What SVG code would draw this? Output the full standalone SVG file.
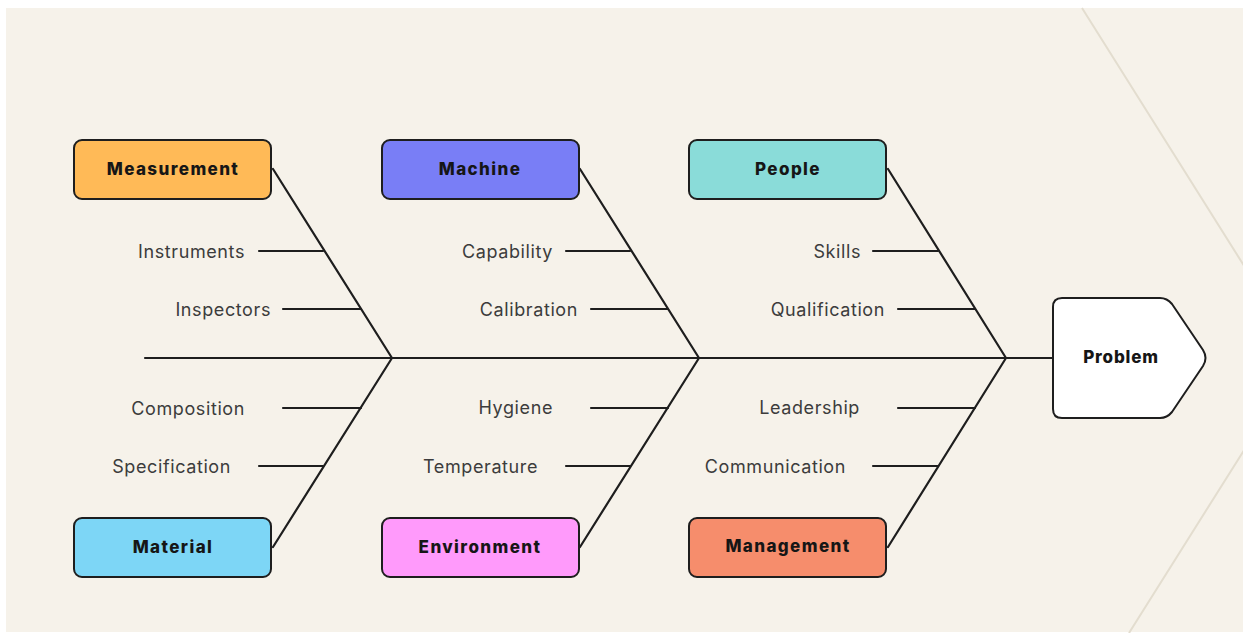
<svg xmlns="http://www.w3.org/2000/svg" width="1243" height="633" viewBox="0 0 1243 633">
  <style>
    .bg { fill: #F6F2EA; }
    .deco { fill: none; stroke: #E3DDCF; stroke-width: 2; }
    .bone { fill: none; stroke: #1E1E1E; stroke-width: 2.2; stroke-linecap: round; stroke-linejoin: round; }
    .box { stroke: #1E1E1E; stroke-width: 2; }
    .cat { font-family: Inter, "Liberation Sans", sans-serif; font-weight: 800; font-size: 17px; letter-spacing: 1.4px; fill: #161616; text-anchor: middle; dominant-baseline: central; }
    .cause { font-family: Inter, "Liberation Sans", sans-serif; font-size: 18px; letter-spacing: 0.6px; fill: #3C3C3C; text-anchor: end; dominant-baseline: central; }
  </style>

  <!-- canvas -->
  <rect x="0" y="0" width="1243" height="633" fill="#FFFFFF"/>
  <rect class="bg" x="6" y="8" width="1237" height="624"/>
  <polyline class="deco" points="1082,8 1302,358 1129,633"/>

  <!-- connectors: spine, ribs and sub-causes -->
  <g id="connectors">
    <line class="bone" x1="145" y1="358" x2="1053" y2="358"/>
    <polyline class="bone" points="273,169 392,358 273,547"/>
    <polyline class="bone" points="580,169 699,358 580,547"/>
    <polyline class="bone" points="888,169 1006,358 888,547"/>

    <line class="bone" x1="259" y1="251" x2="323" y2="251"/>
    <line class="bone" x1="283" y1="309" x2="361" y2="309"/>
    <line class="bone" x1="283" y1="408" x2="361" y2="408"/>
    <line class="bone" x1="259" y1="466" x2="323" y2="466"/>

    <line class="bone" x1="566" y1="251" x2="630" y2="251"/>
    <line class="bone" x1="591" y1="309" x2="668" y2="309"/>
    <line class="bone" x1="591" y1="408" x2="668" y2="408"/>
    <line class="bone" x1="566" y1="466" x2="630" y2="466"/>

    <line class="bone" x1="873" y1="251" x2="938" y2="251"/>
    <line class="bone" x1="898" y1="309" x2="975" y2="309"/>
    <line class="bone" x1="898" y1="408" x2="975" y2="408"/>
    <line class="bone" x1="873" y1="466" x2="938" y2="466"/>
  </g>

  <!-- cause labels -->
  <g id="causes">
    <text class="cause" x="245" y="251">Instruments</text>
    <text class="cause" x="271" y="309">Inspectors</text>
    <text class="cause" x="245" y="408">Composition</text>
    <text class="cause" x="231" y="466">Specification</text>

    <text class="cause" x="553" y="251">Capability</text>
    <text class="cause" x="578" y="309">Calibration</text>
    <text class="cause" x="553" y="407">Hygiene</text>
    <text class="cause" x="538" y="466">Temperature</text>

    <text class="cause" x="861" y="251">Skills</text>
    <text class="cause" x="885" y="309">Qualification</text>
    <text class="cause" x="860" y="407">Leadership</text>
    <text class="cause" x="846" y="466">Communication</text>
  </g>

  <!-- category nodes -->
  <g id="measurement">
    <rect class="box" x="74" y="140" width="197" height="59" rx="8" fill="#FFBA57"/>
    <text class="cat" x="173" y="169">Measurement</text>
  </g>
  <g id="machine">
    <rect class="box" x="382" y="140" width="197" height="59" rx="8" fill="#797EF6"/>
    <text class="cat" x="480" y="169">Machine</text>
  </g>
  <g id="people">
    <rect class="box" x="689" y="140" width="197" height="59" rx="8" fill="#8ADCD9"/>
    <text class="cat" x="788" y="169">People</text>
  </g>
  <g id="material">
    <rect class="box" x="74" y="518" width="197" height="59" rx="8" fill="#7DD6F6"/>
    <text class="cat" x="173" y="547">Material</text>
  </g>
  <g id="environment">
    <rect class="box" x="382" y="518" width="197" height="59" rx="8" fill="#FF9AFB"/>
    <text class="cat" x="480" y="547">Environment</text>
  </g>
  <g id="management">
    <rect class="box" x="689" y="518" width="197" height="59" rx="8" fill="#F68D6C"/>
    <text class="cat" x="788" y="546">Management</text>
  </g>

  <!-- effect node -->
  <g id="problem">
    <path class="box" fill="#FFFFFF" d="M1062,298 L1160,298 Q1167,298 1172,304 L1203,350 Q1208,358 1203,366 L1172,412 Q1167,418 1160,418 L1062,418 Q1053,418 1053,409 L1053,307 Q1053,298 1062,298 Z"/>
    <text class="cat" x="1121" y="357" style="letter-spacing:0.8px">Problem</text>
  </g>
</svg>
